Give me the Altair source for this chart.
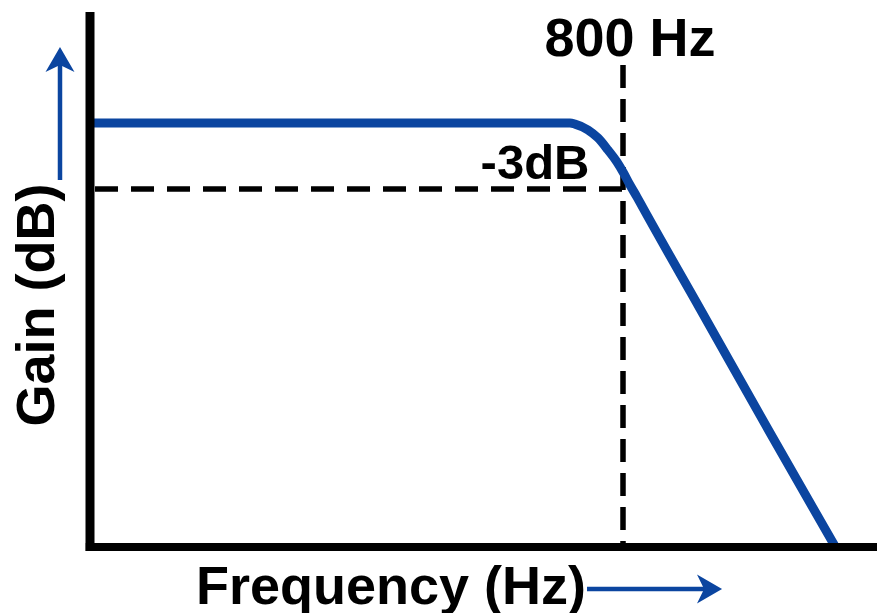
import altair as alt
import pandas as pd

# ---- data (normalised frequency: 1.0 = 800 Hz cutoff; gain in dB) ----
freq = [0.0, 0.9006, 0.9099, 0.9343, 0.9531, 0.9719, 0.9887, 1.0, 1.0131, 1.0263,
        1.0375, 1.1445, 1.2758, 1.3996]
gain = [0.0, 0.0, -0.05, -0.32, -0.69, -1.25, -1.80, -2.26, -2.86, -3.42,
        -3.92, -8.57, -14.30, -19.62]

cutoff_freq = 1.0
cutoff_gain = -3.0
cutoff_label = "800 Hz"
gain_label = "-3dB"

# axis frame (data units)
axis_gain = -19.57          # gain level of the horizontal axis
axis_top_gain = 5.12        # top of vertical axis
axis_left = 0.0
axis_right = 1.5

BLUE = "#0b45a0"
FONT = "Liberation Sans"

W, H = 869, 605
PX_PER_F = 533.0
PX_PER_DB = 65.0 / 3.0
X_DOMAIN = [(8 - 90) / PX_PER_F, (8 + W - 90) / PX_PER_F]
Y_DOMAIN = [(123 - (8 + H)) / PX_PER_DB, (123 - 8) / PX_PER_DB]

xs = alt.Scale(domain=X_DOMAIN, nice=False, zero=False)
ys = alt.Scale(domain=Y_DOMAIN, nice=False, zero=False)


def X(field):
    return alt.X(field, type="quantitative", scale=xs, axis=None)


def Y(field):
    return alt.Y(field, type="quantitative", scale=ys, axis=None)


curve_df = pd.DataFrame({"f": freq, "g": gain})
curve = alt.Chart(curve_df).mark_line(
    color=BLUE, strokeWidth=9, interpolate="monotone", strokeCap="butt", clip=False
).encode(x=X("f"), y=Y("g"), order="f:Q")

# axes (thick black L)
vaxis = alt.Chart(pd.DataFrame({"x": [axis_left], "y": [axis_top_gain], "y2": [axis_gain - 0.18]})).mark_rule(
    color="black", strokeWidth=9
).encode(x=X("x"), y=Y("y"), y2="y2")
haxis = alt.Chart(pd.DataFrame({"x": [axis_left - 0.008], "x2": [axis_right], "y": [axis_gain]})).mark_rule(
    color="black", strokeWidth=8
).encode(x=X("x"), x2="x2", y=Y("y"))

# dashed guides
vdash = alt.Chart(pd.DataFrame({"x": [cutoff_freq], "y": [2.68], "y2": [axis_gain]})).mark_rule(
    color="black", strokeWidth=5.5, strokeDash=[23, 11]
).encode(x=X("x"), y=Y("y"), y2="y2")
hdash = alt.Chart(pd.DataFrame({"x": [0.0094], "x2": [cutoff_freq], "y": [cutoff_gain - 0.05]})).mark_rule(
    color="black", strokeWidth=5.5, strokeDash=[23, 13]
).encode(x=X("x"), x2="x2", y=Y("y"))

# arrows
up_shaft = alt.Chart(pd.DataFrame({"x": [-0.0563], "y": [-2.63], "y2": [3.2]})).mark_rule(
    color=BLUE, strokeWidth=4.5
).encode(x=X("x"), y=Y("y"), y2="y2")
right_shaft = alt.Chart(pd.DataFrame({"x": [0.9325], "x2": [1.165], "y": [-21.51]})).mark_rule(
    color=BLUE, strokeWidth=4.5
).encode(x=X("x"), x2="x2", y=Y("y"))

head_path = "M0,-0.9L1,0.83L0,0.34L-1,0.83Z"
heads_df = pd.DataFrame({"x": [-0.0563, 1.1614], "y": [2.908, -21.51], "ang": [0, 90]})
heads = alt.Chart(heads_df).mark_point(
    shape=head_path, filled=True, color=BLUE, size=841, opacity=1, strokeWidth=0
).encode(x=X("x"), y=Y("y"), angle=alt.Angle("ang:Q", scale=None))

# texts
texts_df = pd.DataFrame({
    "x": [1.0131, 0.835, 0.5647],
    "y": [3.092, -2.585, -22.2],
    "t": [cutoff_label, gain_label, "Frequency (Hz)"],
    "s": [54, 49, 54],
})
texts = alt.Chart(texts_df).mark_text(
    font=FONT, fontWeight="bold", color="black", align="center", baseline="alphabetic"
).encode(x=X("x"), y=Y("y"), text="t:N", size=alt.Size("s:Q", scale=None))

ylabel = alt.Chart(pd.DataFrame({"x": [-0.0675], "y": [-8.4], "t": ["Gain (dB)"]})).mark_text(
    font=FONT, fontWeight="bold", color="black", align="center", baseline="alphabetic",
    angle=270, fontSize=54
).encode(x=X("x"), y=Y("y"), text="t:N")

chart = alt.layer(
    hdash, vdash, curve, vaxis, haxis, up_shaft, right_shaft, heads, texts, ylabel
).properties(
    width=W, height=H, autosize=alt.AutoSizeParams(type="none"), padding=0,
    background="white"
).configure_view(stroke=None)

chart.save("out.html", embed_options={"renderer": "svg", "actions": False})
